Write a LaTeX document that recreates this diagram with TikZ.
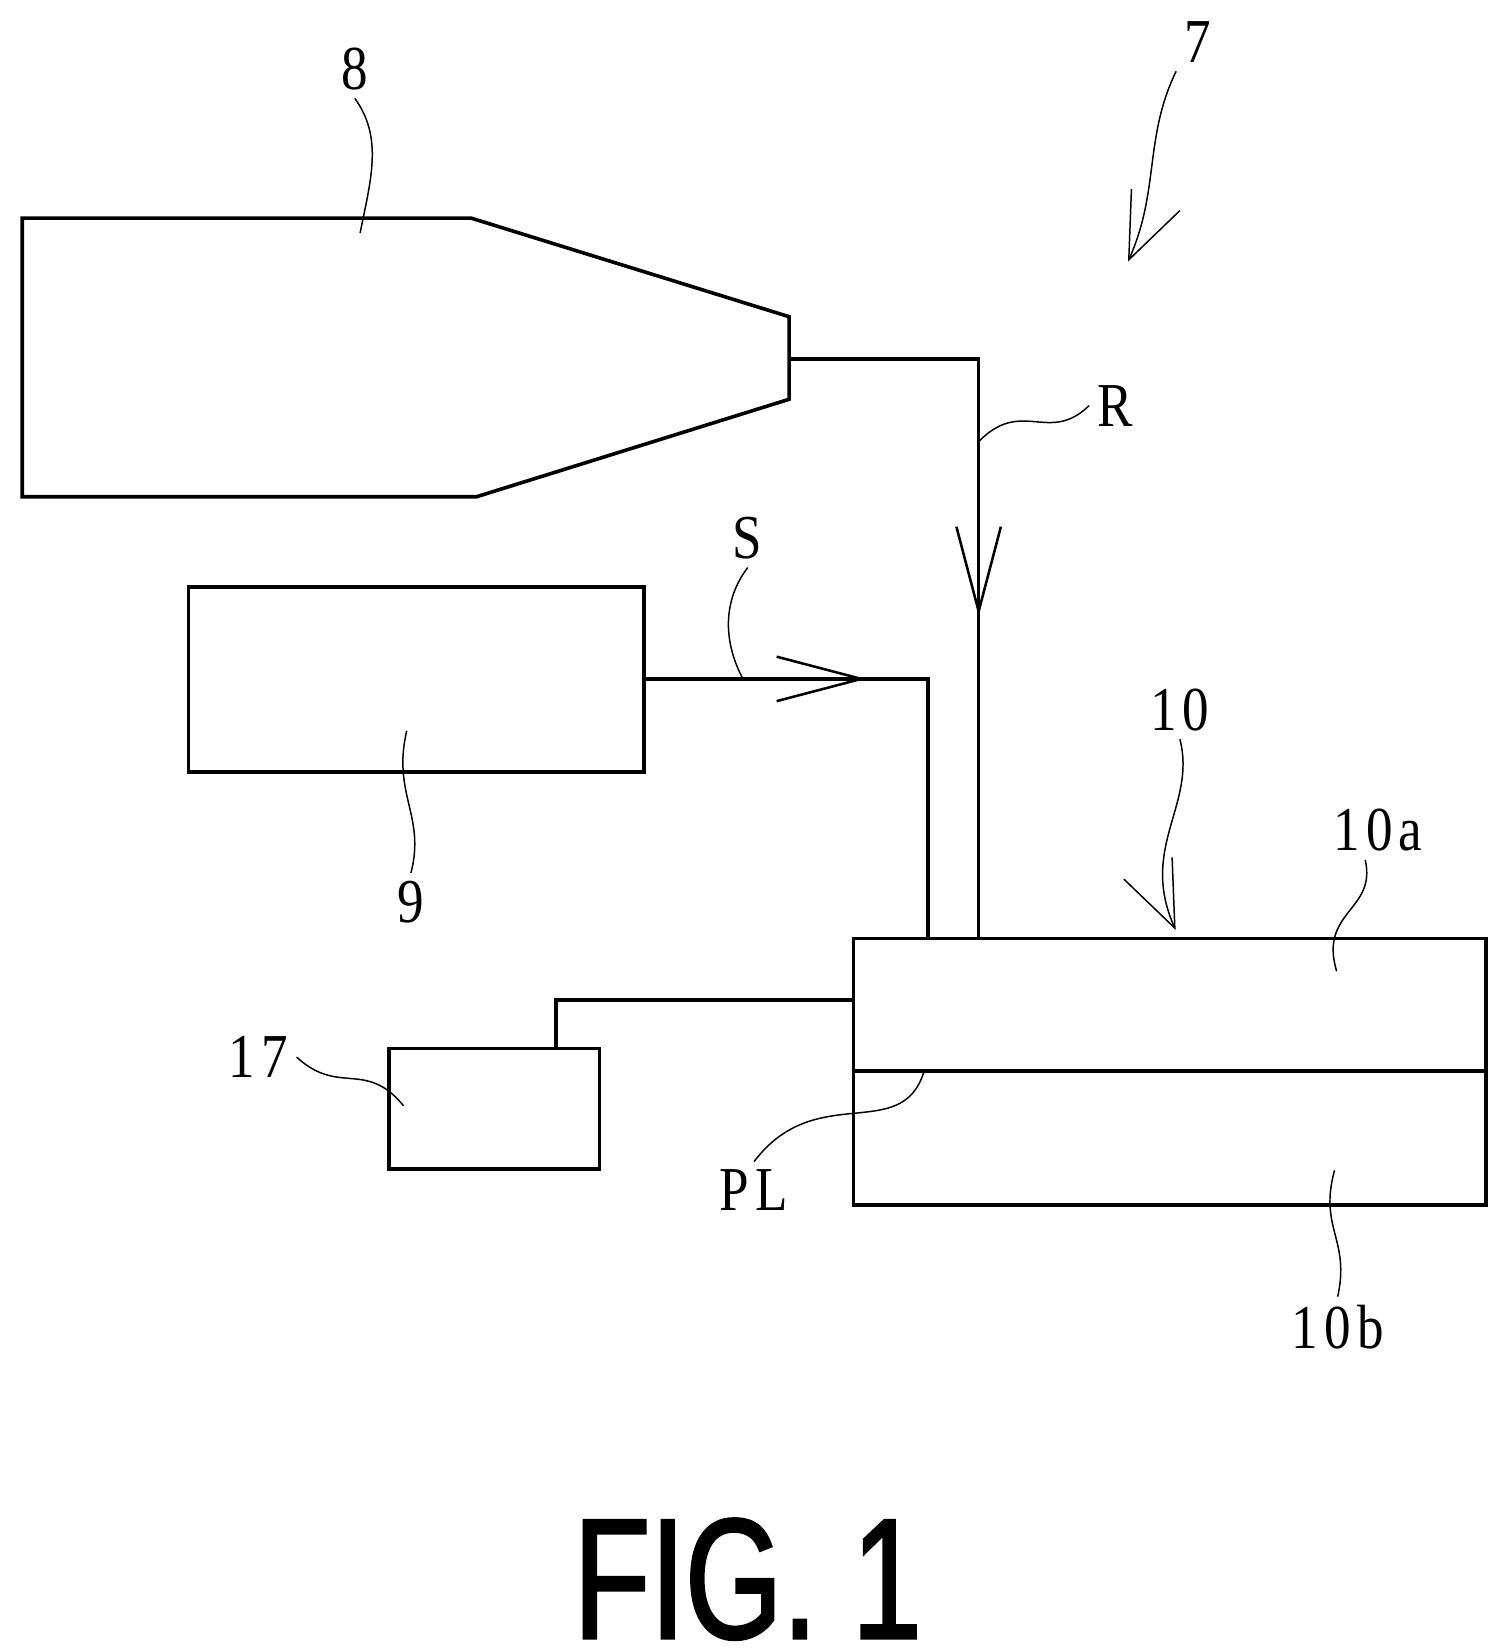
\documentclass[tikz,border=0pt]{standalone}
\usepackage{fontspec}
\usepackage{tikz}
\usetikzlibrary{arrows.meta}
\setmainfont[FakeStretch=0.85,LetterSpace=10]{Liberation Serif}
\newfontfamily\figfont[FakeStretch=0.73,FakeBold=1.5]{Liberation Sans}
\tikzset{
  unit/.style={draw,line width=1.7pt,rectangle,anchor=north west,inner sep=0pt,outer sep=0pt},
  wire/.style={draw,line width=1.7pt},
  leader/.style={draw,line width=0.7pt},
  lbl/.style={inner sep=0pt,outer sep=4pt,font=\fontsize{29.5}{30}\selectfont},
  bigbarb/.style={>={Straight Barb[length=40pt,width=21pt,line width=1.2pt]}},
  thinbarb/.style={>={Straight Barb[length=31pt,width=25pt,line width=0.7pt]}}
}

\begin{document}
\begin{tikzpicture}[x=0.5pt,y=-0.5pt]
  \useasboundingbox (0,0) rectangle (1415,1556);

  % boxes
  \node (box9) [unit,minimum width=215pt,minimum height=87.5pt] at (178,554) {};
  \node (box17) [unit,minimum width=99.5pt,minimum height=57pt] at (367,990) {};
  \node (box10a) [unit,minimum width=298.5pt,minimum height=62.5pt] at (806,886) {};
  \node (box10b) [unit,minimum width=298.5pt,minimum height=63.5pt] at (806,1011) {};

  % unit 8
  \coordinate (nozzle) at (745,339);
  \draw[wire,line join=miter] (21,206) -- (445,206) -- (745,299) -- (745,377) -- (450,469) -- (21,469) -- cycle;

  % labels
  \node (l7) [lbl] at (1131,40) {7};
  \node (l8) [lbl] at (335,65) {8};
  \node (l9) [lbl] at (388,852) {9};
  \node (lR) [lbl] at (1053,383) {R};
  \node (lS) [lbl] at (706,508) {S};
  \node (l10) [lbl] at (1114,670) {10};
  \node (l10a) [lbl] at (1301,784) {10a};
  \node (l10b) [lbl] at (1263,1253) {10b};
  \node (l17) [lbl] at (244,998) {17};
  \node (lPL) [lbl] at (712,1124) {PL};
  \node (fig) [inner sep=0pt,font=\figfont\fontsize{81}{82}\selectfont] at (706,1491) {FIG. 1};

  % wires
  \coordinate (rtip) at (924,582);
  \coordinate (rend) at (924,886);
  \coordinate (stip) at (818,641);
  \coordinate (send) at (876,886);
  \coordinate (cin) at (806,944);
  \coordinate (cout) at (525,990);
  \path[wire]
    (nozzle) -| (rend)
    (box9.east |- stip) -| (send)
    (cin) -| (cout);
  \path[wire,->,bigbarb]
    (nozzle) -| (rtip);
  \path[wire,->,bigbarb]
    (box9.east |- stip) -- (stip);

  % leaders
  \coordinate (e8) at (340,220);
  \coordinate (e7) at (1065,247);
  \coordinate (e9) at (384,690);
  \coordinate (eR) at (924,417);
  \coordinate (eS) at (701,640);
  \coordinate (e10) at (1110,878);
  \coordinate (e10a) at (1262,917);
  \coordinate (e10b) at (1260,1105);
  \coordinate (e17) at (381,1044);
  \coordinate (ePL) at (872,1013);
  \path[leader]
    (l8.south) .. controls (362,130) and (350,170) .. (e8)
    (lR.west) .. controls (990,420) and (965,375) .. (eR)
    (lS.south) .. controls (680,570) and (685,610) .. (eS)
    (e9) .. controls (370,750) and (402,770) .. (l9.north)
    ([xshift=-6pt]l10a.south) .. controls (1300,860) and (1245,860) .. (e10a)
    (e10b) .. controls (1245,1160) and (1275,1170) .. (l10b.north)
    (l17.east) .. controls (320,1035) and (345,1000) .. (e17)
    (lPL.north) .. controls (770,1020) and (850,1080) .. (ePL);
  \path[leader,->,thinbarb]
    (l7.south west) .. controls (1080,130) and (1095,180) .. (e7);
  \path[leader,->,thinbarb]
    (l10.south) .. controls (1130,760) and (1075,800) .. (e10);
\end{tikzpicture}
\end{document}
